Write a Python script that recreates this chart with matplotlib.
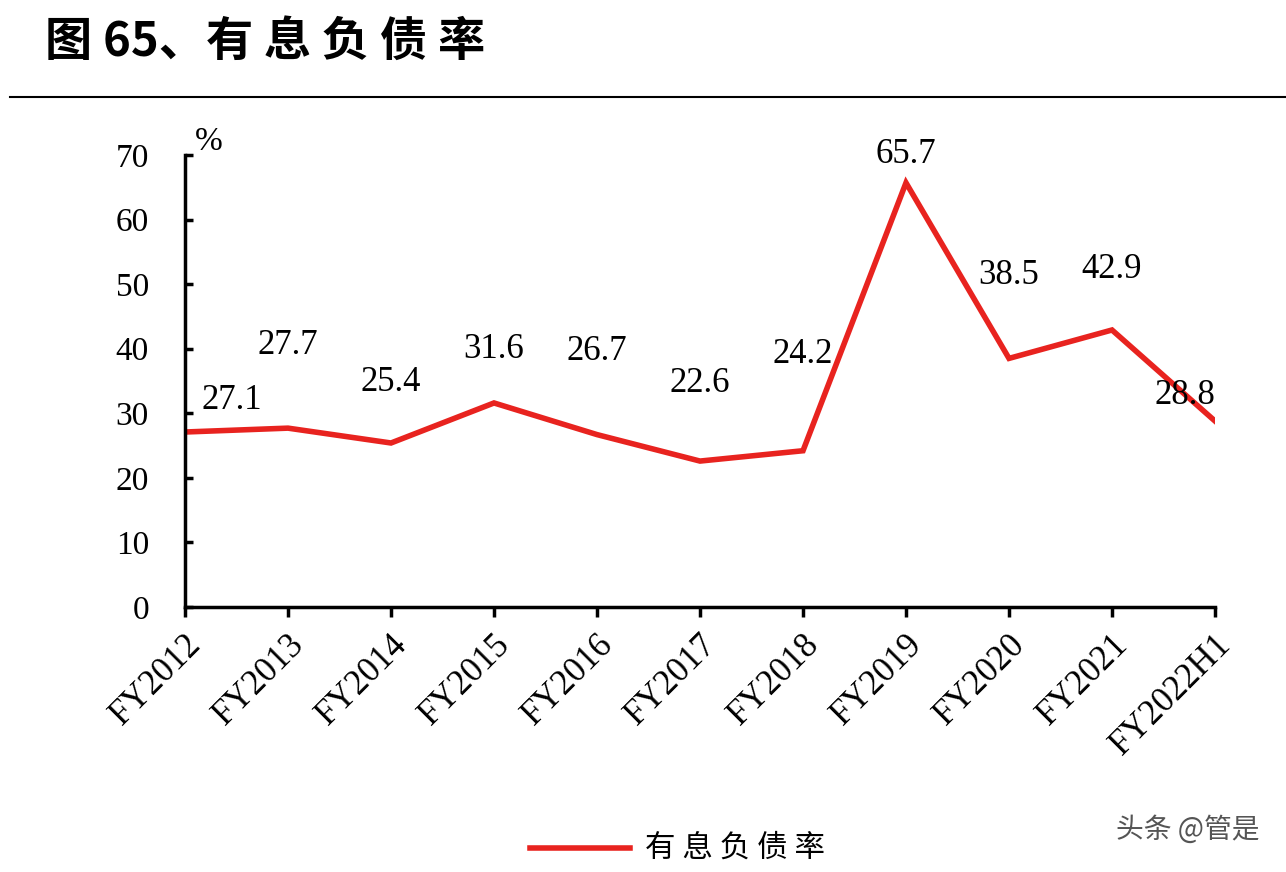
import numpy as np
import matplotlib
matplotlib.use("Agg")
from matplotlib import pyplot as plt
from matplotlib.lines import Line2D

categories = ['FY2012', 'FY2013', 'FY2014', 'FY2015', 'FY2016', 'FY2017',
              'FY2018', 'FY2019', 'FY2020', 'FY2021', 'FY2022H1']
values = [27.1, 27.7, 25.4, 31.6, 26.7, 22.6, 24.2, 65.7, 38.5, 42.9, 28.8]
# label offsets in pixels (dx, dy)
label_dx = [47, 0, 0, 0, 0, 0, 0, 0, 0, 0, -30]
label_dy = [32, 83, 60, 53, 83, 78, 96, 28, 83, 60, 26]

serif = ['Liberation Serif', 'DejaVu Serif']
cjk = ['Noto Sans CJK SC', 'DejaVu Sans']

fig = plt.figure(figsize=(12.86, 8.72), dpi=100)
ax = fig.add_axes([185/1286, 1-607/872, 1030/1286, 452/872])

x = np.arange(len(categories))
ax.plot(x, values, color='#e8231f', lw=4, solid_joinstyle='miter')
for xi, v, dx, dy in zip(x, values, label_dx, label_dy):
    ax.annotate(f'{v:.1f}', (xi, v), xytext=(dx, dy), textcoords='offset pixels',
                ha='center', va='center', fontsize=25, family=serif)

ax.set_xlim(0, len(categories) - 1)
ax.set_ylim(0, 70)
ax.set_yticks(range(0, 71, 10))
ax.set_xticks(x)
ax.set_xticklabels(categories, rotation=45, ha='right', rotation_mode='anchor',
                   fontsize=25, family=serif)
for lab in ax.get_yticklabels():
    lab.set_family(serif)
    lab.set_fontsize(24)
ax.tick_params(axis='x', direction='out', length=7, width=2.5, pad=8)
ax.tick_params(axis='y', direction='in', length=6, width=2.5, pad=26)
for s in ['top', 'right']:
    ax.spines[s].set_visible(False)
for s in ['left', 'bottom']:
    ax.spines[s].set_linewidth(2.5)
ax.text(0.01, 1.01, '%', transform=ax.transAxes, fontsize=24, family=serif)

fig.text(45/1286, 1-42/872, '图 65、有 息 负 债 率', fontsize=34, fontweight='bold',
         family=cjk, va='center')
fig.add_artist(Line2D([10/1286, 1], [1-97/872, 1-97/872], color='black', lw=1.5))

fig.add_artist(Line2D([530/1286, 630/1286], [1-848/872, 1-848/872],
                      color='#e8231f', lw=4))
fig.text(645/1286, 1-848/872, '有 息 负 债 率', fontsize=22, family=cjk, va='center')
fig.text(1260/1286, 1-830/872, '头条 @管是', fontsize=20, family=cjk,
         va='center', ha='right', color='#555555')

plt.savefig('out.png', dpi=100)
